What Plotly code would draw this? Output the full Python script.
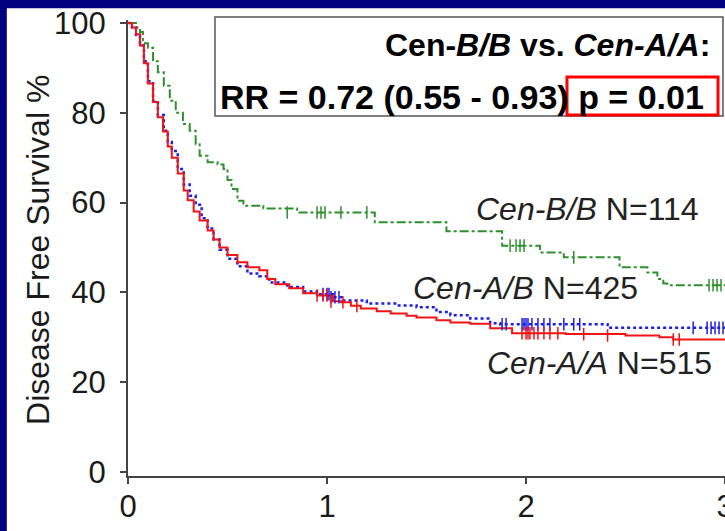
import plotly.graph_objects as go

# ---- data (years, disease free survival %) ----
aa_t = [0, 0.02, 0.04, 0.06, 0.08, 0.10, 0.126, 0.15, 0.176, 0.20, 0.22, 0.25, 0.28, 0.30, 0.33, 0.36, 0.40, 0.43, 0.46, 0.50,
        0.55, 0.60, 0.66, 0.70, 0.74, 0.81, 0.88, 0.95, 1.03, 1.07, 1.12, 1.17, 1.25, 1.32, 1.40, 1.45, 1.55, 1.62, 1.72,
        1.82, 1.93, 2.20, 2.50, 2.67, 2.74, 3.0]
aa_s = [100, 99, 97.5, 95, 91, 86.5, 82.4, 79, 75.8, 72.5, 70, 66.5, 62.7, 60.5, 58, 56, 53.8, 51.8, 50, 48.3,
        46.7, 45.6, 44.9, 43, 41.8, 40.9, 39.8, 39.3, 38, 37.8, 37, 36.4, 35.8, 35.3, 34.8, 34.4, 33.8, 33.3, 33,
        32, 30.9, 30.7, 30.4, 30, 29.5, 29.5]
aa_cens_t = [0.95, 0.98, 1.0, 1.02, 1.08, 1.15, 1.98, 2.0, 2.01, 2.02, 2.04, 2.06, 2.09, 2.12, 2.16, 2.29, 2.41, 2.74, 2.77]
aa_cens_s = [39.3, 39.3, 39.3, 38, 37.8, 37, 30.9, 30.9, 30.9, 30.9, 30.9, 30.9, 30.9, 30.9, 30.9, 30.7, 30.4, 29.5, 29.5]

ab_t = [0, 0.02, 0.04, 0.06, 0.08, 0.10, 0.126, 0.15, 0.18, 0.20, 0.22, 0.25, 0.28, 0.31, 0.34, 0.37, 0.40, 0.43, 0.46, 0.50,
        0.55, 0.60, 0.66, 0.71, 0.80, 0.88, 0.95, 1.03, 1.08, 1.20, 1.35, 1.45, 1.55, 1.62, 1.72, 1.82, 1.87, 2.41, 3.0]
ab_s = [100, 99, 97.3, 95, 91.5, 87, 82.6, 79.5, 76, 73.5, 71.5, 67.5, 64, 61.5, 59.5, 56.5, 54.2, 51.8, 49.5, 47.5,
        45.8, 44.2, 43.6, 42.2, 41.2, 40.2, 39.6, 38.9, 38.2, 37.5, 37.1, 36.7, 35.6, 34.9, 34.2, 33.1, 32.9, 32.1, 32.1]
ab_cens_t = [0.98, 1.0, 1.01, 1.02, 1.04, 1.06, 1.88, 1.9, 1.98, 1.99, 2.0, 2.01, 2.03, 2.06, 2.09, 2.12, 2.19, 2.24, 2.27,
             2.84, 2.91, 2.93, 2.95, 2.97, 2.99]
ab_cens_s = [39.6, 39.6, 39.6, 38.9, 38.9, 38.9, 32.9, 32.9, 32.9, 32.9, 32.9, 32.9, 32.9, 32.9, 32.9, 32.9, 32.9, 32.9, 32.9,
             32.1, 32.1, 32.1, 32.1, 32.1, 32.1]

bb_t = [0, 0.04, 0.06, 0.075, 0.10, 0.126, 0.15, 0.18, 0.21, 0.24, 0.276, 0.31, 0.34, 0.36, 0.40, 0.45, 0.48, 0.50, 0.52,
        0.55, 0.58, 0.68, 0.85, 1.24, 1.60, 1.88, 2.07, 2.19, 2.47, 2.61, 2.66, 2.69, 2.71, 3.0]
bb_s = [100, 99, 98, 95.5, 94.5, 91.5, 89, 86, 82.7, 80, 77.5, 76, 73, 70.4, 69, 68.5, 67.5, 65, 63,
        60.4, 59.3, 58.7, 57.8, 55.6, 53.6, 50.4, 48.9, 47.8, 45.6, 44.4, 43, 42, 41.6, 41.6]
bb_cens_t = [0.80, 0.95, 0.97, 0.99, 1.07, 1.20, 1.92, 1.95, 1.97, 1.99, 2.24, 2.92, 2.94, 2.96, 2.98]
bb_cens_s = [57.8, 57.8, 57.8, 57.8, 57.8, 57.8, 50.4, 50.4, 50.4, 50.4, 47.8, 41.6, 41.6, 41.6, 41.6]

y_ticks = [0, 20, 40, 60, 80, 100]
x_ticks = [0, 1, 2, 3]

RED = "#f01414"
BLUE = "#1e1ee6"
GREEN = "#2f8f2f"
NAVY = "#000080"
FONT = "Liberation Sans, Arial, sans-serif"

fig = go.Figure()

def km(t, s, color, dash, width):
    fig.add_trace(go.Scatter(x=t, y=s, mode="lines", line=dict(color=color, dash=dash, width=width, shape="hv"),
                             showlegend=False, hoverinfo="skip"))

def cens(t, s, color):
    fig.add_trace(go.Scatter(x=t, y=s, mode="markers",
                             marker=dict(symbol="line-ns", size=9, line=dict(color=color, width=1.5)),
                             showlegend=False, hoverinfo="skip"))

km(bb_t, bb_s, GREEN, "dashdot", 2)
km(ab_t, ab_s, BLUE, "dot", 2.5)
km(aa_t, aa_s, RED, "solid", 2)
cens(bb_cens_t, bb_cens_s, GREEN)
cens(ab_cens_t, ab_cens_s, BLUE)
cens(aa_cens_t, aa_cens_s, RED)

axis_common = dict(showgrid=False, zeroline=False, showline=True, linecolor="#444", linewidth=2,
                   ticks="outside", ticklen=6, tickwidth=2, tickcolor="#444", ticklabeloverflow="allow",
                   automargin=False, tickfont=dict(family=FONT, size=31, color="#1a1a1a"))

fig.update_xaxes(range=[0, 3], tickvals=x_ticks, ticktext=[str(v) for v in x_ticks], ticklabelstandoff=-4,
                 **axis_common)
fig.update_yaxes(range=[-0.9, 100.66], tickvals=y_ticks, ticktext=[str(v) for v in y_ticks], ticklabelstandoff=8,
                 **axis_common)

shapes = [
    dict(type="rect", xref="paper", yref="paper", x0=-0.203, x1=1.05, y0=-0.3, y1=1.026,
         fillcolor="white", line=dict(width=0), layer="below"),
    dict(type="rect", xref="paper", yref="paper", x0=0.1457, x1=0.9966, y0=0.7895, y1=1.0066,
         fillcolor="white", line=dict(color="#555", width=1.5), layer="above"),
    dict(type="rect", xref="paper", yref="paper", x0=0.7353, x1=0.9883, y0=0.7917, y1=0.875,
         fillcolor="rgba(0,0,0,0)", line=dict(color="#ff0000", width=3), layer="above"),
]

annotations = [
    dict(xref="paper", yref="paper", x=-0.1508, y=0.4956, showarrow=False, xanchor="center", yanchor="middle",
         textangle=-90, text="Disease Free Survival %", font=dict(family=FONT, size=32, color="#1a1a1a")),
    dict(xref="paper", yref="paper", x=0.7027, y=0.945, showarrow=False, xanchor="center", yanchor="middle",
         text="<b>Cen-<i>B/B</i> vs. <i>Cen-A/A</i>:</b>", font=dict(family=FONT, size=32, color="black")),
    dict(xref="paper", yref="paper", x=0.5595, y=0.831, showarrow=False, xanchor="center", yanchor="middle",
         text="<b>RR = 0.72 (0.55 - 0.93) p = 0.01</b>", font=dict(family=FONT, size=34, color="black")),
    dict(x=2.307, y=58.6, showarrow=False, xanchor="center", yanchor="middle",
         text="<i>Cen-B/B</i> N=114", font=dict(family=FONT, size=32, color="#222")),
    dict(x=1.997, y=41.0, showarrow=False, xanchor="center", yanchor="middle",
         text="<i>Cen-A/B</i> N=425", font=dict(family=FONT, size=32, color="#222")),
    dict(x=2.367, y=24.3, showarrow=False, xanchor="center", yanchor="middle",
         text="<i>Cen-A/A</i> N=515", font=dict(family=FONT, size=32, color="#222")),
]

fig.update_layout(width=725, height=531, margin=dict(l=128, r=0, t=20, b=55, autoexpand=False),
                  paper_bgcolor=NAVY, plot_bgcolor="white", shapes=shapes, annotations=annotations,
                  showlegend=False)

fig.write_html("out.html")
